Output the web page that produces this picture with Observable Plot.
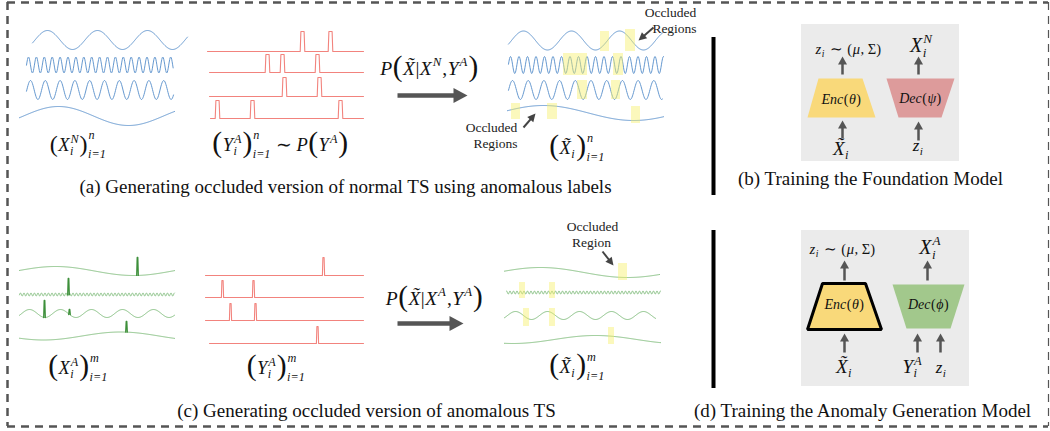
<!DOCTYPE html>
<html><head><meta charset="utf-8">
<script src="https://cdn.jsdelivr.net/npm/d3@7"></script>
<script src="https://cdn.jsdelivr.net/npm/@observablehq/plot@0.6"></script>
<style>body{margin:0;background:#fff}#chart svg{display:block}</style>
</head><body><div id="chart"></div>
<script>
// ================= DATA =================
// (a) normal series X^N : sinusoid parameters
const normalSeries = [
  {x0:32, x1:187, cy:39.5, amp:9.5, period:50, peak:47},
  {x0:26, x1:173, cy:64.5, amp:8, period:7.9, peak:28},
  {x0:26, x1:173, cy:89.5, amp:9.5, period:14.8, peak:30},
  {x0:19, x1:174, cy:115.5, amp:9.5, period:140, peak:58}
];
// (a) occluded normal series
const occludedNormalSeries = [
  {x0:508, x1:662, cy:40, amp:9.5, period:48, peak:523},
  {x0:508, x1:663, cy:64.5, amp:8.5, period:8.5, peak:510},
  {x0:508, x1:662, cy:89.5, amp:9.5, period:15.7, peak:512},
  {x0:507, x1:663, cy:112.5, amp:7.5, period:180, peak:543}
];
// (a) anomaly label sequences Y^A (pulse times)
const labelsA = [
  {x0:207, x1:363, base:51, top:31, at:[302,330]},
  {x0:209, x1:363, base:72, top:54, at:[267,282,317]},
  {x0:209, x1:363, base:96, top:77, at:[284,319]},
  {x0:210, x1:363, base:118, top:100, at:[217,252,340]}
];
// (c) anomalous series X^A with spikes
const anomalousSeries = [
  {x0:19, x1:174, cy:270.5, amp:4.5, period:156, peak:55, spikes:[{t:137, top:257}]},
  {x0:19, x1:174, cy:294, amp:1.5, period:3.5, peak:20, spikes:[{t:68, top:278}]},
  {x0:19, x1:174, cy:313, amp:4, period:31, peak:60, spikes:[{t:44, top:300},{t:69, top:309}]},
  {x0:19, x1:174, cy:335.5, amp:4, period:154, peak:120, spikes:[{t:126, top:321}]}
];
// (c) anomaly labels
const labelsC = [
  {x0:205, x1:363, base:275, top:257, at:[323]},
  {x0:205, x1:363, base:297, top:280, at:[222,253]},
  {x0:205, x1:363, base:320, top:303, at:[230,255]},
  {x0:209, x1:363, base:343, top:326, at:[317]}
];
// (c) occluded anomalous series
const occludedAnomalousSeries = [
  {x0:504, x1:659, cy:272, amp:5, period:174, peak:540},
  {x0:506, x1:660, cy:292, amp:1.5, period:3.5, peak:506},
  {x0:504, x1:655, cy:315, amp:4, period:32, peak:515},
  {x0:504, x1:660, cy:339, amp:4, period:165, peak:595}
];
// occluded regions
const occlusionsA = [
  {x1:600,x2:609,y1:31,y2:51},{x1:625,x2:635,y1:29,y2:51},
  {x1:563,x2:587,y1:53,y2:75},{x1:613,x2:623,y1:53,y2:75},
  {x1:577,x2:587,y1:80,y2:99},{x1:611,x2:620,y1:80,y2:99},
  {x1:511,x2:520,y1:103,y2:119},{x1:547,x2:557,y1:103,y2:119},{x1:631,x2:640,y1:106,y2:123}
];
const occlusionsC = [
  {x1:618,x2:627,y1:263,y2:280},
  {x1:519,x2:525,y1:282,y2:298},{x1:549,x2:555,y1:282,y2:298},
  {x1:523,x2:529,y1:308,y2:326},{x1:549,x2:555,y1:308,y2:326},
  {x1:608,x2:614,y1:327,y2:344}
];
// model blocks
const blocks = [
  {id:"encB", fill:"#f9d97a", xt:[818,862], xb:[807,875], yt:78, yb:117},
  {id:"decB", fill:"#dd9b9b", xt:[886,954], xb:[898,941], yt:78, yb:117},
  {id:"encD", fill:"#f9d97a", xt:[822,865], xb:[807,881], yt:283, yb:329},
  {id:"decD", fill:"#a2c88c", xt:[892,964], xb:[906,950], yt:284, yb:328}
];
const panelBoxes = [{x1:801,x2:959,y1:24,y2:161},{x1:801,x2:969,y1:230,y2:386}];
const dividers = [{x:713,y1:37,y2:195},{x:713,y1:230,y2:388}];
const frameH = [{y:2, x1:7, x2:1048},{y:426, x1:7, x2:1048}];
const frameV = [{x:7, y1:2, y2:426, w:2.5},{x:1048, y1:2, y2:426, w:1.2}];
const bigArrows = [{x1:397,y1:95,x2:467,y2:95},{x1:397,y1:323,x2:463,y2:323}];
const smallArrows = [
  {x1:842,y1:74,x2:842,y2:56},{x1:842,y1:138,x2:842,y2:120},
  {x1:918,y1:74,x2:918,y2:56},{x1:918,y1:140,x2:918,y2:121},
  {x1:844,y1:280,x2:844,y2:260},{x1:844,y1:352,x2:844,y2:333},
  {x1:927,y1:280,x2:927,y2:260},{x1:917,y1:352,x2:917,y2:333},{x1:940,y1:352,x2:940,y2:333}
];
const pointerArrows = [
  {x1:653,y1:27,x2:638,y2:40},{x1:523,y1:127,x2:535,y2:113},{x1:602,y1:251,x2:613,y2:265}
];
const captions = [
  {x:345, y:186, text:"(a) Generating occluded version of normal TS using anomalous labels"},
  {x:870, y:178, text:"(b) Training the Foundation Model"},
  {x:366, y:410, text:"(c) Generating occluded version of anomalous TS"},
  {x:862, y:410, text:"(d) Training the Anomaly Generation Model"}
];
const notes = [
  {x:670, y:16, text:"Occluded"},{x:674, y:32, text:"Regions"},
  {x:491, y:131, text:"Occluded"},{x:495, y:147, text:"Regions"},
  {x:592, y:230, text:"Occluded"},{x:591, y:246, text:"Region"}
];

// formula tokens
const I = (t, o={}) => ({i:t, ...o});
const U = (t, o={}) => ({u:t, ...o});
const P = (t, s) => ({u:t, s, dy: s > 1.4 ? 1.5 : 1});
const SS = (sup, sub, big) => ({sup, sub, big});
const SP = (w) => ({sp:w});
const XT = "X\u0303";
const formulas = [
  {cx:78, y:150, size:18.5, toks:[P("(",1.3), I("X"), SS("N","i"), P(")",1.3), SS("n","i=1",true)]},
  {cx:280, y:150, size:18.5, toks:[P("(",1.6), I("Y"), SS("A","i"), P(")",1.6), SS("n","i=1",true), SP(4), U("∼"), SP(4), I("P"), P("(",1.6), I("Y"), SS("A",null), P(")",1.6)]},
  {cx:429, y:74, size:19.5, toks:[I("P"), P("(",1.5), I(XT), U("|"), I("X"), SS("N",null), U(","), I("Y"), SS("A",null), P(")",1.5)]},
  {cx:577, y:153, size:18.5, toks:[P("(",1.6), I(XT), SS(null,"i"), P(")",1.6), SS("n","i=1",true)]},
  {cx:78, y:373, size:18.5, toks:[P("(",1.6), I("X"), SS("A","i"), P(")",1.6), SS("m","i=1",true)]},
  {cx:276, y:373, size:18.5, toks:[P("(",1.6), I("Y"), SS("A","i"), P(")",1.6), SS("m","i=1",true)]},
  {cx:434, y:304, size:19.5, toks:[I("P"), P("(",1.5), I(XT), U("|"), I("X"), SS("A",null), U(","), I("Y"), SS("A",null), P(")",1.5)]},
  {cx:577, y:372, size:18.5, toks:[P("(",1.6), I(XT), SS(null,"i"), P(")",1.6), SS("m","i=1",true)]},
  {cx:848, y:53, size:14.5, toks:[I("z"), SS(null,"i"), SP(4), U("∼"), SP(4), U("("), I("μ"), U(", Σ)")]},
  {cx:921, y:51, size:20, toks:[I("X"), SS("N","i")]},
  {cx:841, y:103, size:14, toks:[I("Enc"), U("("), I("θ"), U(")")]},
  {cx:920, y:102, size:14, toks:[I("Dec"), U("("), I("ψ"), U(")")]},
  {cx:841, y:154, size:19, toks:[I(XT), SS(null,"i")]},
  {cx:918, y:150, size:17, toks:[I("z"), SS(null,"i")]},
  {cx:842, y:253, size:14.5, toks:[I("z"), SS(null,"i"), SP(4), U("∼"), SP(4), U("("), I("μ"), U(", Σ)")]},
  {cx:930, y:253, size:20, toks:[I("X"), SS("A","i")]},
  {cx:844, y:308, size:14, toks:[I("Enc"), U("("), I("θ"), U(")")]},
  {cx:928, y:308, size:14, toks:[I("Dec"), U("("), I("ϕ"), U(")")]},
  {cx:844, y:372, size:19, toks:[I(XT), SS(null,"i")]},
  {cx:912, y:372, size:19, toks:[I("Y"), SS("A","i")]},
  {cx:941, y:372, size:17, toks:[I("z"), SS(null,"i")]}
];

// ================= BUILD =================
const FONT = '"Liberation Serif", "Times New Roman", serif';
const ctx = document.createElement("canvas").getContext("2d");
function tw(t, s, it) { ctx.font = `${it ? "italic " : ""}${s}px "Liberation Serif"`; return ctx.measureText(t).width; }

function wave(s, id) {
  const pts = [], step = Math.min(0.5, s.period / 16);
  for (let x = s.x0; x <= s.x1 + 1e-9; x += step)
    pts.push({id, x, y: s.cy - s.amp * Math.cos(2 * Math.PI * (x - s.peak) / s.period)});
  return pts;
}
function pulses(p, id, hw, sl) {
  const pts = [{id, x:p.x0, y:p.base}];
  for (const t of p.at) pts.push({id,x:t-hw-sl,y:p.base},{id,x:t-hw,y:p.top},{id,x:t+hw,y:p.top},{id,x:t+hw+sl,y:p.base});
  pts.push({id, x:p.x1, y:p.base});
  return pts;
}
function spikes(s, id) {
  const out = [];
  s.spikes.forEach((k, j) => {
    const yb = s.cy - s.amp * Math.cos(2 * Math.PI * (k.t - s.peak) / s.period);
    const g = id + "-" + j;
    out.push({id:g,x:k.t-0.8,y:yb},{id:g,x:k.t-0.3,y:k.top},{id:g,x:k.t+0.3,y:k.top},{id:g,x:k.t+0.8,y:yb});
  });
  return out;
}
function heads(arrs, H, Wd, pre) {
  const tri = [], shafts = [];
  arrs.forEach((a, k) => {
    const dx = a.x2 - a.x1, dy = a.y2 - a.y1, L = Math.hypot(dx, dy), ux = dx / L, uy = dy / L, nx = -uy, ny = ux;
    const bx = a.x2 - ux * H, by = a.y2 - uy * H;
    tri.push({id:pre+k,x:a.x2,y:a.y2},{id:pre+k,x:bx+nx*Wd/2,y:by+ny*Wd/2},{id:pre+k,x:bx-nx*Wd/2,y:by-ny*Wd/2});
    shafts.push({x1:a.x1,y1:a.y1,x2:bx+ux*1,y2:by+uy*1});
  });
  return {tri, shafts};
}
const pieces = [];
formulas.forEach(f => {
  const loc = []; let x = 0;
  for (const tk of f.toks) {
    if (tk.sp) { x += tk.sp; continue; }
    if ("sup" in tk) {
      const s = f.size * 0.66; let w = 0;
      const upDy = tk.big ? -0.62 * f.size : -0.42 * f.size;
      const dnDy = tk.big ? 0.42 * f.size : 0.25 * f.size;
      if (tk.sup) { loc.push({t:tk.sup, x:x+0.5, y:f.y+upDy, size:s, it:true}); w = Math.max(w, tw(tk.sup, s, true)); }
      if (tk.sub) { loc.push({t:tk.sub, x:x, y:f.y+dnDy, size:s, it:true}); w = Math.max(w, tw(tk.sub, s, true)); }
      x += w + 1.5; continue;
    }
    const s = f.size * (tk.s || 1), it = "i" in tk, t = it ? tk.i : tk.u;
    const w = tw(t, s, it);
    loc.push({t, x, y:f.y + (tk.dy || 0), size:s, it});
    x += w + 0.5;
  }
  const off = f.cx - x / 2;
  for (const p of loc) pieces.push({...p, x:p.x + off});
});

const normalLines = normalSeries.flatMap((s,k) => wave(s, "n"+k));
const occNormalLines = occludedNormalSeries.flatMap((s,k) => wave(s, "o"+k));
const anomLines = anomalousSeries.flatMap((s,k) => wave(s, "g"+k));
const anomSpikes = anomalousSeries.flatMap((s,k) => spikes(s, "s"+k));
const occAnomLines = occludedAnomalousSeries.flatMap((s,k) => wave(s, "q"+k));
const redA = labelsA.flatMap((p,k) => pulses(p, "ra"+k, 1.6, 0.7));
const redC = labelsC.flatMap((p,k) => pulses(p, "rc"+k, 0.6, 0.5));
const blockPts = blocks.flatMap(b => [
  {id:b.id,x:b.xt[0],y:b.yt},{id:b.id,x:b.xt[1],y:b.yt},{id:b.id,x:b.xb[1],y:b.yb},{id:b.id,x:b.xb[0],y:b.yb}
]);
const big = heads(bigArrows, 14, 15, "b");
const small = heads(smallArrows, 8, 9, "s");
const ptr = heads(pointerArrows, 8, 8, "p");
const GRAY = "#555";

const chart = Plot.plot({
  width: 1050, height: 431, margin: 0,
  x: {domain:[0,1050], range:[0,1050], axis:null},
  y: {domain:[0,431], range:[0,431], axis:null},
  style: {background:"#fff", fontFamily: FONT},
  marks: [
    Plot.ruleY(frameH, {y:"y", x1:"x1", x2:"x2", stroke:GRAY, strokeWidth:2.5, strokeDasharray:"8,6"}),
    Plot.ruleX(frameV, {x:"x", y1:"y1", y2:"y2", stroke:GRAY, strokeWidth:d => d.w, strokeDasharray:"8,6"}),
    Plot.rect(panelBoxes, {x1:"x1", x2:"x2", y1:"y1", y2:"y2", fill:"#ebebeb"}),
    Plot.ruleX(dividers, {x:"x", y1:"y1", y2:"y2", stroke:"#000", strokeWidth:4}),
    Plot.line(normalLines, {x:"x", y:"y", z:"id", stroke:"#6699d0", strokeWidth:1}),
    Plot.line(occNormalLines, {x:"x", y:"y", z:"id", stroke:"#6699d0", strokeWidth:1}),
    Plot.line(redA, {x:"x", y:"y", z:"id", stroke:"#f2837d", strokeWidth:1.1}),
    Plot.line(redC, {x:"x", y:"y", z:"id", stroke:"#f2837d", strokeWidth:1.1}),
    Plot.line(anomLines, {x:"x", y:"y", z:"id", stroke:"#86c082", strokeWidth:1}),
    Plot.line(anomSpikes, {x:"x", y:"y", z:"id", stroke:"#3d8f3a", strokeWidth:1.3}),
    Plot.line(occAnomLines, {x:"x", y:"y", z:"id", stroke:"#86c082", strokeWidth:1}),
    Plot.rect(occlusionsA, {x1:"x1", x2:"x2", y1:"y1", y2:"y2", fill:"#f6ef6a", fillOpacity:0.45}),
    Plot.rect(occlusionsC, {x1:"x1", x2:"x2", y1:"y1", y2:"y2", fill:"#f6ef6a", fillOpacity:0.45}),
    Plot.line(blockPts, {x:"x", y:"y", z:"id", fill: d => blocks.find(b => b.id === d.id).fill, stroke:"none", curve:"linear-closed"}),
    Plot.line(blockPts.filter(d => d.id === "encD"), {x:"x", y:"y", stroke:"#000", strokeWidth:3, curve:"linear-closed", strokeLinejoin:"miter"}),
    Plot.link(big.shafts, {x1:"x1", y1:"y1", x2:"x2", y2:"y2", stroke:GRAY, strokeWidth:4.5}),
    Plot.line(big.tri, {x:"x", y:"y", z:"id", fill:GRAY, stroke:"none", curve:"linear-closed"}),
    Plot.link(small.shafts, {x1:"x1", y1:"y1", x2:"x2", y2:"y2", stroke:GRAY, strokeWidth:2.5}),
    Plot.line(small.tri, {x:"x", y:"y", z:"id", fill:GRAY, stroke:"none", curve:"linear-closed"}),
    Plot.link(ptr.shafts, {x1:"x1", y1:"y1", x2:"x2", y2:"y2", stroke:"#444", strokeWidth:2}),
    Plot.line(ptr.tri, {x:"x", y:"y", z:"id", fill:"#444", stroke:"none", curve:"linear-closed"}),
    Plot.text(pieces.filter(p => p.it), {x:"x", y:"y", text:"t", fontSize:"size", fontStyle:"italic", textAnchor:"start", lineAnchor:"bottom", fill:"#111"}),
    Plot.text(pieces.filter(p => !p.it), {x:"x", y:"y", text:"t", fontSize:"size", textAnchor:"start", lineAnchor:"bottom", fill:"#111"}),
    Plot.text(captions, {x:"x", y:"y", text:"text", fontSize:19, textAnchor:"middle", lineAnchor:"middle", fill:"#111"}),
    Plot.text(notes, {x:"x", y:"y", text:"text", fontSize:13.5, textAnchor:"middle", lineAnchor:"bottom", fill:"#222"})
  ]
});
document.getElementById("chart").appendChild(chart);
</script>
</body></html>
